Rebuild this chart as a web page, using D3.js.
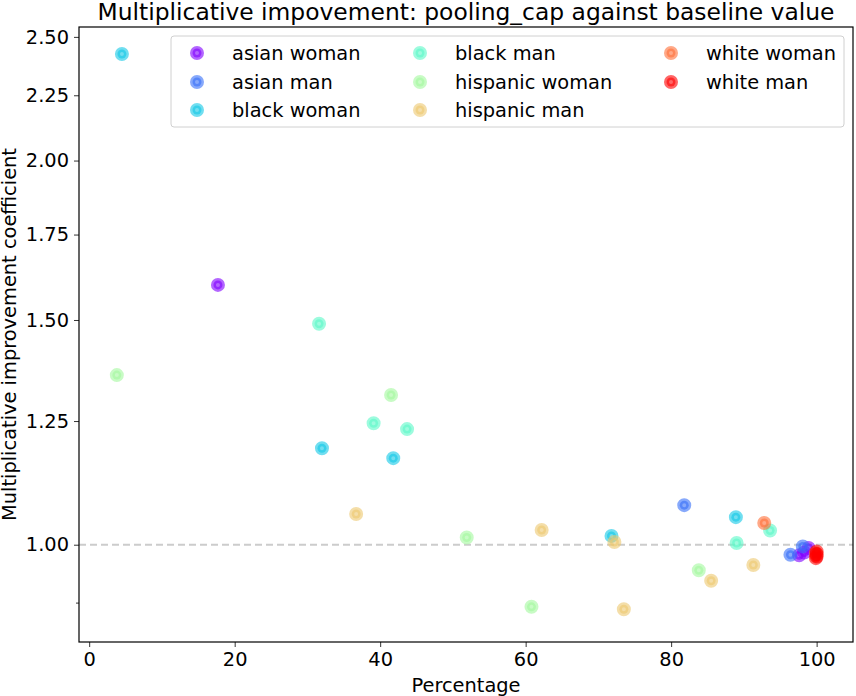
<!doctype html>
<html>
<head>
<meta charset="utf-8" />
<title>Multiplicative impovement</title>
<script src="https://cdn.jsdelivr.net/npm/d3@7"></script>
<style>
  body { margin: 0; background: #fff; }
  text { font-family: "DejaVu Sans", sans-serif; fill: #000; }
</style>
</head>
<body>
<div id="chart"></div>
<script>
// groups in legend order, colours from the rainbow colormap
var groups = ['asian woman', 'asian man', 'black woman', 'black man',
              'hispanic woman', 'hispanic man', 'white woman', 'white man'];
var colors = ['#8000ff', '#376ff9', '#12c8e6', '#5bf9c8',
              '#a4f99f', '#edc86f', '#ff6f39', '#ff0000'];

// [percentage, coefficient] per group
var asianWoman = [[17.7, 1.598], [97.6, 0.981], [98.9, 0.994], [98.3, 0.986]];
var asianMan = [[81.8, 1.074], [96.4, 0.982], [98.1, 0.997]];
var blackWoman = [[4.5, 2.424], [32.0, 1.190], [41.8, 1.169], [71.8, 1.016], [88.9, 1.051]];
var blackMan = [[31.6, 1.490], [39.1, 1.245], [43.7, 1.232], [89.0, 1.003], [93.6, 1.026]];
var hispanicWoman = [[3.8, 1.358], [41.5, 1.310], [51.9, 1.013], [60.8, 0.894], [83.8, 0.955]];
var hispanicMan = [[36.7, 1.057], [62.2, 1.027], [72.2, 1.005], [73.5, 0.890], [85.5, 0.937], [91.3, 0.964]];
var whiteWoman = [[92.8, 1.040], [99.9, 0.985]];
var whiteMan = [[100, 0.988], [100, 0.983], [100, 0.979], [99.9, 0.976]];
var series = [asianWoman, asianMan, blackWoman, blackMan,
              hispanicWoman, hispanicMan, whiteWoman, whiteMan];

var xTicks = [0, 20, 40, 60, 80, 100];
var yTicks = [1.00, 1.25, 1.50, 1.75, 2.00, 2.25, 2.50];
var yMinor = [0.9];

var W = 856, H = 696;
var mLeft = 79, mTop = 27, mRight = 853, mBottom = 642;
var fs = '19.4px';

var svg = d3.select('#chart').append('svg')
    .attr('width', W).attr('height', H);

var x = d3.scaleLinear().domain([-1.4, 105]).range([mLeft, mRight]);
var y = d3.scaleLog().domain([0.839, 2.545]).range([mBottom, mTop]);

// baseline
svg.append('line')
    .attr('x1', mLeft).attr('x2', mRight)
    .attr('y1', y(1)).attr('y2', y(1))
    .style('stroke', '#cccccc')
    .style('stroke-width', 2)
    .style('stroke-dasharray', '7,4');

// points
series.forEach(function (pts, i) {
    svg.append('g').selectAll('circle')
        .data(pts)
        .enter().append('circle')
        .attr('cx', function (d) { return x(d[0]); })
        .attr('cy', function (d) { return y(d[1]); })
        .attr('r', 4.5)
        .style('fill', colors[i])
        .style('fill-opacity', 0.6)
        .style('stroke', colors[i])
        .style('stroke-opacity', 0.6)
        .style('stroke-width', 5);
});

// axes
var xAxis = d3.axisBottom(x).tickValues(xTicks).tickSize(5).tickPadding(5)
    .tickFormat(d3.format('d'));
var gx = svg.append('g').attr('transform', 'translate(0,' + mBottom + ')').call(xAxis);
gx.select('.domain').remove();

var yAxis = d3.axisLeft(y).tickValues(yTicks).tickSize(5).tickPadding(5)
    .tickFormat(d3.format('.2f'));
var gy = svg.append('g').attr('transform', 'translate(' + mLeft + ',0)').call(yAxis);
gy.select('.domain').remove();

svg.append('g').selectAll('line')
    .data(yMinor)
    .enter().append('line')
    .attr('x1', mLeft - 3).attr('x2', mLeft)
    .attr('y1', function (d) { return y(d); })
    .attr('y2', function (d) { return y(d); })
    .style('stroke', '#000').style('stroke-width', 0.8);

svg.selectAll('.tick text')
    .style('font-family', '"DejaVu Sans", sans-serif')
    .style('font-size', fs)
    .style('fill', '#000');
svg.selectAll('.tick line').style('stroke-width', 0.8);

// frame
svg.append('rect')
    .attr('x', mLeft).attr('y', mTop)
    .attr('width', mRight - mLeft).attr('height', mBottom - mTop)
    .style('fill', 'none').style('stroke', '#000').style('stroke-width', 1.2);

// titles
svg.append('text')
    .attr('x', (mLeft + mRight) / 2).attr('y', 20)
    .attr('text-anchor', 'middle')
    .style('font-size', '23.4px')
    .text('Multiplicative impovement: pooling_cap against baseline value');

svg.append('text')
    .attr('x', (mLeft + mRight) / 2).attr('y', 692)
    .attr('text-anchor', 'middle')
    .style('font-size', fs)
    .text('Percentage');

svg.append('text')
    .attr('transform', 'translate(16,' + ((mTop + mBottom) / 2) + ') rotate(-90)')
    .attr('text-anchor', 'middle')
    .style('font-size', fs)
    .text('Multiplicative improvement coefficient');

// legend
var legend = svg.append('g');
legend.append('rect')
    .attr('x', 171).attr('y', 36)
    .attr('width', 673).attr('height', 91)
    .attr('rx', 3)
    .style('fill', 'rgba(255,255,255,0.8)')
    .style('stroke', '#d0d0d0').style('stroke-width', 1);

var colX = [197, 420, 671];
var rowY = [53, 82, 110];
groups.forEach(function (g, i) {
    var cx = colX[Math.floor(i / 3)], cy = rowY[i % 3];
    legend.append('circle')
        .attr('cx', cx).attr('cy', cy).attr('r', 4.5)
        .style('fill', colors[i]).style('fill-opacity', 0.6)
        .style('stroke', colors[i]).style('stroke-opacity', 0.6)
        .style('stroke-width', 5);
    legend.append('text')
        .attr('x', cx + 35).attr('y', cy + 7)
        .style('font-size', fs)
        .text(g);
});
</script>
</body>
</html>
